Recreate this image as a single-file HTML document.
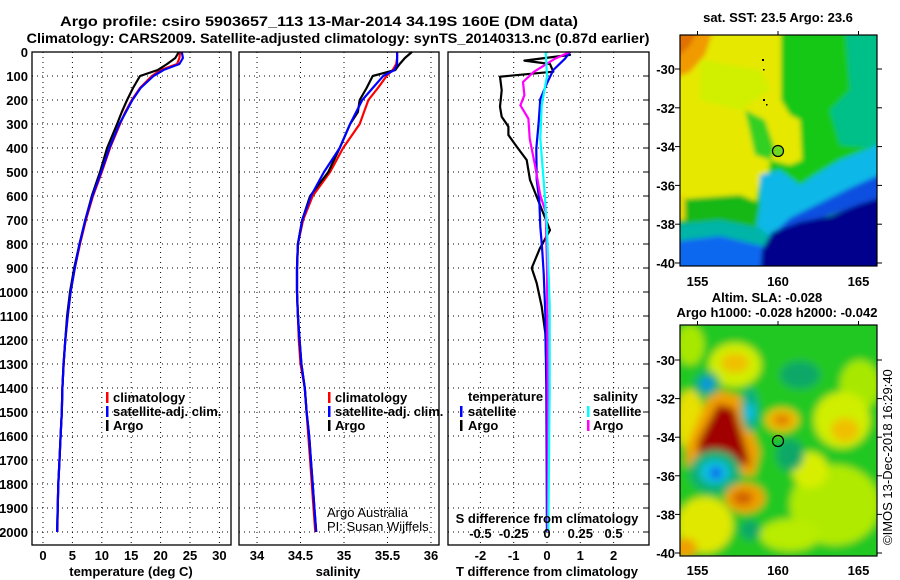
<!DOCTYPE html>
<html><head><meta charset="utf-8">
<style>
html,body{margin:0;padding:0;background:#fff;}
svg{display:block;font-family:"Liberation Sans",Arial,sans-serif;}
.b{font-weight:bold;font-size:13px;}
</style></head>
<body>
<svg id="fig" width="900" height="580" viewBox="0 0 900 580" xmlns="http://www.w3.org/2000/svg">
<defs>
<filter id="blur1" x="-10%" y="-10%" width="120%" height="120%"><feGaussianBlur stdDeviation="2.5"/></filter>
<filter id="blur2" x="-10%" y="-10%" width="120%" height="120%"><feGaussianBlur stdDeviation="4"/></filter>
<clipPath id="clipM1"><rect x="680" y="35" width="197" height="231"/></clipPath>
<clipPath id="clipM2"><rect x="680" y="325" width="197" height="231"/></clipPath>
</defs>
<text x="319" y="26" class="b" style="font-size:14px" text-anchor="middle" textLength="518" lengthAdjust="spacingAndGlyphs">Argo profile: csiro 5903657_113 13-Mar-2014 34.19S 160E (DM data)</text>
<text x="338" y="43" class="b" style="font-size:14px" text-anchor="middle" textLength="623" lengthAdjust="spacingAndGlyphs">Climatology: CARS2009. Satellite-adjusted climatology: synTS_20140313.nc (0.87d earlier)</text>

<g id="grid"></g>
<g id="lines"></g>
<g id="axes"></g>

<g class="b">
<rect x="106" y="392" width="2.5" height="11" fill="#f00"/><text x="113" y="402">climatology</text>
<rect x="106" y="406" width="2.5" height="11" fill="#00f"/><text x="113" y="416">satellite-adj. clim.</text>
<rect x="106" y="420" width="2.5" height="11" fill="#000"/><text x="113" y="430">Argo</text>
</g>
<g class="b">
<rect x="328" y="392" width="2.5" height="11" fill="#f00"/><text x="335" y="402">climatology</text>
<rect x="328" y="406" width="2.5" height="11" fill="#00f"/><text x="335" y="416">satellite-adj. clim.</text>
<rect x="328" y="420" width="2.5" height="11" fill="#000"/><text x="335" y="430">Argo</text>
</g>
<g class="b">
<text x="468" y="401">temperature</text>
<rect x="460" y="406" width="2.5" height="11" fill="#00f"/><text x="468" y="416">satellite</text>
<rect x="460" y="420" width="2.5" height="11" fill="#000"/><text x="468" y="430">Argo</text>
<text x="593" y="401">salinity</text>
<rect x="587" y="406" width="2.5" height="11" fill="#0ff"/><text x="593" y="416">satellite</text>
<rect x="587" y="420" width="2.5" height="11" fill="#f0f"/><text x="593" y="430">Argo</text>
</g>
<text x="327" y="517" font-size="13">Argo Australia</text>
<text x="327" y="531" font-size="13">PI: Susan Wijffels</text>
<text x="547" y="523" class="b" text-anchor="middle">S difference from climatology</text>

<g>
<g clip-path="url(#clipM1)"><g filter="url(#blur1)">
<rect x="670" y="25" width="220" height="250" fill="#12c812"/>
<polygon points="670,25 781,25 781,100 790,115 800,120 802,160 790,165 770,160 768,175 760,180 755,205 670,205" fill="#e6e800"/>
<polygon points="700,60 760,70 770,90 740,110 700,100" fill="#d0f000"/>
<polygon points="745,110 765,120 775,150 770,160 755,155" fill="#30d020"/>
<polygon points="670,25 715,25 705,55 690,72 670,80" fill="#f09a00"/>
<polygon points="670,25 700,25 690,45 675,60 670,60" fill="#e07000"/>
<polygon points="845,25 890,25 890,150 840,145 830,110 850,90" fill="#00c08a"/>
<polygon points="670,200 740,195 765,205 770,225 760,230 670,230" fill="#18b818"/>
<polygon points="670,195 685,195 685,220 670,220" fill="#e8d800"/>
<polygon points="760,175 780,170 800,185 815,175 840,160 890,140 890,175 850,190 820,205 790,220 770,240 755,235 760,205" fill="#10b8e8"/>
<polygon points="670,225 720,220 760,228 780,245 780,275 670,275" fill="#00b4a8"/>
<polygon points="670,242 720,236 770,248 780,275 670,275" fill="#1068f0"/>
<polygon points="890,170 850,188 820,203 790,218 775,232 800,225 860,205 890,195" fill="#1050e0"/>
<polygon points="772,232 800,222 830,216 860,204 890,195 890,275 760,275 762,250" fill="#00008c"/>
</g></g>
<rect x="680" y="35" width="197" height="231" fill="none" stroke="#000" stroke-width="1.2"/>
<circle cx="778" cy="151" r="5.5" fill="#6cd820" stroke="#000" stroke-width="1.2"/>
<g fill="#000"><rect x="762" y="59" width="2" height="2"/><rect x="763" y="69" width="1.5" height="1.5"/><rect x="763" y="99" width="2" height="2"/><rect x="766" y="104" width="1.5" height="1.5"/></g>
<text x="778" y="22" class="b" text-anchor="middle">sat. SST: 23.5 Argo: 23.6</text>
</g>

<g>
<g clip-path="url(#clipM2)"><g filter="url(#blur2)">
<rect x="670" y="315" width="220" height="250" fill="#20c820"/>
<ellipse cx="735" cy="365" rx="26" ry="22" fill="#d0ee00"/>
<ellipse cx="735" cy="363" rx="14" ry="10" fill="#f0c000"/>
<ellipse cx="690" cy="345" rx="14" ry="20" fill="#a8e800"/>
<ellipse cx="860" cy="385" rx="20" ry="25" fill="#a8e800"/>
<ellipse cx="842" cy="420" rx="28" ry="28" fill="#d0ee00"/>
<ellipse cx="845" cy="430" rx="14" ry="12" fill="#f0c000"/>
<ellipse cx="835" cy="505" rx="45" ry="40" fill="#b0ea00"/>
<ellipse cx="810" cy="470" rx="18" ry="18" fill="#d8ee00"/>
<ellipse cx="705" cy="525" rx="28" ry="28" fill="#e0e800"/>
<ellipse cx="790" cy="535" rx="30" ry="16" fill="#b8ec00"/>
<ellipse cx="690" cy="420" rx="14" ry="30" fill="#e8e000"/>
<polygon points="686,448 712,388 740,396 760,452 754,476 686,466" fill="#f0a000"/>
<polygon points="698,442 718,404 734,408 746,448 750,466 698,454" fill="#a00000"/>
<ellipse cx="715" cy="472" rx="26" ry="22" fill="#10b070"/>
<ellipse cx="715" cy="472" rx="15" ry="12" fill="#10c0e0"/>
<ellipse cx="716" cy="473" rx="6" ry="6" fill="#1060f0"/>
<ellipse cx="707" cy="384" rx="13" ry="13" fill="#10b070"/>
<ellipse cx="707" cy="384" rx="6" ry="6" fill="#1090f0"/>
<ellipse cx="750" cy="410" rx="9" ry="22" fill="#10b080"/>
<ellipse cx="750" cy="412" rx="4" ry="9" fill="#10c0f0"/>
<ellipse cx="745" cy="498" rx="20" ry="15" fill="#f0a000"/>
<ellipse cx="743" cy="498" rx="10" ry="7" fill="#d06000"/>
<ellipse cx="782" cy="420" rx="17" ry="12" fill="#f0c000"/>
<ellipse cx="782" cy="420" rx="9" ry="6" fill="#e08000"/>
<ellipse cx="800" cy="375" rx="20" ry="14" fill="#10a868"/>
<ellipse cx="750" cy="530" rx="10" ry="10" fill="#10a868"/>
<ellipse cx="790" cy="455" rx="14" ry="16" fill="#10a868"/>
<ellipse cx="685" cy="548" rx="12" ry="10" fill="#f0a000"/>
</g></g>
<rect x="680" y="325" width="197" height="231" fill="none" stroke="#000" stroke-width="1.2"/>
<circle cx="778" cy="441" r="5.5" fill="none" stroke="#000" stroke-width="1.2"/>
<text x="767" y="302" class="b" text-anchor="middle">Altim. SLA: -0.028</text>
<text x="777" y="317" class="b" text-anchor="middle">Argo h1000: -0.028 h2000: -0.042</text>
</g>
<text transform="translate(892,545) rotate(-90)" font-size="13">©IMOS 13-Dec-2018 16:29:40</text>

<script>
const depths = [0,25,50,75,100,150,200,250,300,400,500,600,700,800,900,1000,1100,1200,1300,1400,1500,1600,1700,1800,1900,2000];
const tempClim = [23.3,23.2,22.8,20.0,18.5,16.5,15.1,14.0,13.1,11.4,10.0,8.5,7.3,6.3,5.4,4.7,4.2,3.8,3.5,3.3,3.2,3.0,2.8,2.6,2.5,2.45];
const tempSat  = [23.6,23.8,23.2,20.5,18.8,16.6,15.2,14.1,13.0,11.3,9.9,8.4,7.2,6.2,5.4,4.7,4.2,3.8,3.5,3.3,3.2,3.0,2.8,2.6,2.5,2.4];
const tempArgo = [23.1,22.5,21.1,19.5,16.5,15.3,14.3,13.4,12.6,10.9,9.7,8.3,7.2,6.2,5.3,4.6,4.1,3.8,3.5,3.3,3.2,3.0,2.8,2.6,2.5,2.4];
const salClim = [35.61,35.61,35.60,35.56,35.49,35.39,35.28,35.23,35.18,34.99,34.84,34.64,34.53,34.47,34.46,34.46,34.47,34.48,34.50,34.55,34.57,34.59,34.61,34.63,34.65,34.67];
const salSat  = [35.61,35.61,35.61,35.58,35.45,35.33,35.21,35.14,35.07,34.95,34.77,34.62,34.52,34.47,34.46,34.46,34.47,34.49,34.51,34.55,34.57,34.60,34.62,34.64,34.66,34.68];
const salArgo = [35.78,35.70,35.64,35.59,35.33,35.26,35.18,35.16,35.07,34.95,34.82,34.61,34.52,34.47,34.46,34.46,34.47,34.49,34.51,34.55,34.57,34.60,34.62,34.64,34.66,34.68];
const tDiffArgoDepths = [0,12,36,50,82,103,159,228,270,311,346,394,450,533,603,742,817,900,963,1061,1171,1400,2000];
const tDiffArgo = [0.6,0.69,-0.68,0.09,0.19,-1.41,-1.36,-1.41,-1.36,-1.16,-1.16,-0.91,-0.61,-0.51,-0.31,0.09,-0.21,-0.46,-0.31,-0.16,-0.05,0,0];
const tDiffSatDepths = [0,28,75,130,196,292,403,533,617,728,811,922,1089,1400,2000];
const tDiffSat = [0.69,0.54,0.19,0,-0.2,-0.25,-0.32,-0.31,-0.23,-0.2,-0.15,-0.1,-0.05,-0.02,0];
const sDiffArgoDepths = [0,28,83,125,180,222,278,361,472,597,667,900,1400,2000];
const sDiffArgo = [0.17,0.06,-0.1,-0.18,-0.17,-0.2,-0.14,-0.13,-0.09,-0.05,-0.01,0,0.005,0.005];
const sDiffSatDepths = [0,100,222,361,569,736,1056,1400,2000];
const sDiffSat = [-0.01,0,-0.04,-0.05,-0.02,0,0.02,0.02,0.01];
const depthTicks = [0,100,200,300,400,500,600,700,800,900,1000,1100,1200,1300,1400,1500,1600,1700,1800,1900,2000];
const tempTicks = [0,5,10,15,20,25,30];
const salTicks = [34,34.5,35,35.5,36];
const salTickLabels = ["34","34.5","35","35.5","36"];
const tDiffTicks = [-2,-1,0,1,2];
const sDiffTicks = [-0.5,-0.25,0,0.25,0.5];
const sDiffTickLabels = ["-0.5","-0.25","0","0.25","0.5"];
const latTicks = [-30,-32,-34,-36,-38,-40];
const lonTicks = [155,160,165];

const NS = "http://www.w3.org/2000/svg";
const yD = d => 52 + d*0.24;
const xT = v => 43 + v*5.88;
const xS = v => 257 + (v-34)*87;
const xTD = v => 547 + v*33.3;
const xSD = v => 547 + v*133.2;
const PT = 52, PB = 545;
const panels = [{x0:32,x1:231},{x0:239,x1:439},{x0:448,x1:649}];

function mk(tag, attrs, parent){
  const e = document.createElementNS(NS, tag);
  for (const k in attrs) e.setAttribute(k, attrs[k]);
  parent.appendChild(e);
  return e;
}
const grid = document.getElementById('grid');
const lines = document.getElementById('lines');
const axes = document.getElementById('axes');

panels.forEach((p, pi) => {
  depthTicks.forEach(d => {
    const l = mk('line', {x1:p.x0, x2:p.x1, y1:yD(d), y2:yD(d), stroke:'#000', 'stroke-width':1, 'stroke-dasharray':'1,4'}, grid);
    
    
  });
});
function vgrid(ticks, sx){
  ticks.forEach(v => {
    const l = mk('line', {x1:sx(v), x2:sx(v), y1:PT, y2:PB, stroke:'#000', 'stroke-width':1, 'stroke-dasharray':'1,4'}, grid);
    
    
  });
}
vgrid(tempTicks, xT); vgrid(salTicks, xS); vgrid(tDiffTicks, xTD);

function series(ds, vs, sx, color, name){
  const pts = ds.map((d,i) => sx(vs[i]).toFixed(1)+','+yD(d).toFixed(1)).join(' ');
  const pl = mk('polyline', {points:pts, fill:'none', stroke:color, 'stroke-width':2.2, 'stroke-linejoin':'round'}, lines);
  
  
}
series(depths, tempClim, xT, '#f00', 'temperature-climatology-line');
series(depths, tempArgo, xT, '#000', 'temperature-argo-line');
series(depths, tempSat, xT, '#00f', 'temperature-satellite-line');
series(depths, salClim, xS, '#f00', 'salinity-climatology-line');
series(depths, salArgo, xS, '#000', 'salinity-argo-line');
series(depths, salSat, xS, '#00f', 'salinity-satellite-line');
series(tDiffArgoDepths, tDiffArgo, xTD, '#000', 't-diff-argo-line');
series(tDiffSatDepths, tDiffSat, xTD, '#00f', 't-diff-satellite-line');
series(sDiffArgoDepths, sDiffArgo, xSD, '#f0f', 's-diff-argo-line');
series(sDiffSatDepths, sDiffSat, xSD, '#0ff', 's-diff-satellite-line');

panels.forEach((p,i) => {
  const r = mk('rect', {x:p.x0, y:PT, width:p.x1-p.x0, height:PB-PT, fill:'none', stroke:'#000', 'stroke-width':1.3}, axes);
  
  
});
function txt(x, y, s, anchor, name, extra){
  const t = mk('text', Object.assign({x:x, y:y, 'text-anchor':anchor, class:'b'}, extra||{}), axes);
  t.textContent = s;
  
  
  return t;
}
depthTicks.forEach(d => txt(28, yD(d)+5, String(d), 'end', 'depth-tick-label'));
tempTicks.forEach(v => txt(xT(v), 560, String(v), 'middle', 'temperature-tick-label'));
salTicks.forEach((v,i) => txt(xS(v), 560, salTickLabels[i], 'middle', 'salinity-tick-label'));
tDiffTicks.forEach(v => txt(xTD(v), 560, String(v), 'middle', 't-diff-tick-label'));
sDiffTicks.forEach((v,i) => txt(xSD(v), 538, sDiffTickLabels[i], 'middle', 's-diff-tick-label'));
txt(131, 576, 'temperature (deg C)', 'middle', 'temperature-axis-title');
txt(338, 576, 'salinity', 'middle', 'salinity-axis-title');
txt(547, 576, 'T difference from climatology', 'middle', 't-diff-axis-title');
depthTicks.forEach(d => {
  const l = mk('line', {x1:643, x2:649, y1:yD(d), y2:yD(d), stroke:'#000', 'stroke-width':1}, axes);
  
  
});
const maps = [{top:35, lat30:69, lat40:263, lab:286},{top:325, lat30:360, lat40:553, lab:575}];
const xLon = v => 778 + (v-160)*16.1;
maps.forEach(m => {
  const yLat = v => m.lat30 + (-30 - v)*(m.lat40-m.lat30)/10;
  latTicks.forEach(v => {
    txt(675, yLat(v)+5, String(v), 'end', 'latitude-tick-label');
    const a = mk('line', {x1:675, x2:680, y1:yLat(v), y2:yLat(v), stroke:'#000'}, axes);
    
    
    const b = mk('line', {x1:877, x2:882, y1:yLat(v), y2:yLat(v), stroke:'#000'}, axes);
    
    
  });
  lonTicks.forEach(v => {
    txt(xLon(v), m.lab, String(v), 'middle', 'longitude-tick-label');
    const a = mk('line', {x1:xLon(v), x2:xLon(v), y1:m.top-4, y2:m.top, stroke:'#000'}, axes);
    
    
  });
});
</script>
</svg>
</body></html>
